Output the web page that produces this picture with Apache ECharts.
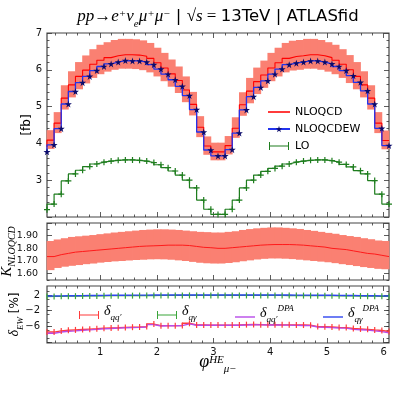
<!DOCTYPE html>
<html lang="en">
<head>
<meta charset="UTF-8">
<title>phi_mu HE - NLO QCD / EW</title>
<script src="https://cdn.jsdelivr.net/npm/echarts@6/dist/echarts.min.js"></script>
<style>html,body{margin:0;padding:0;background:#fff}</style>
</head>
<body>
<div id="main" style="width:399px;height:399px"></div>
<script type="text/javascript">
// bin points along phi_mu^HE (steps drawn "pre": value i covers phi[i-1]..phi[i])
var phi = [0.063,0.188,0.314,0.440,0.565,0.691,0.817,0.942,1.068,1.194,1.319,1.445,1.571,1.696,1.822,1.948,2.073,2.199,2.325,2.450,2.576,2.702,2.827,2.953,3.079,3.204,3.330,3.456,3.581,3.707,3.833,3.958,4.084,4.210,4.335,4.461,4.587,4.712,4.838,4.964,5.089,5.215,5.341,5.466,5.592,5.718,5.843,5.969,6.095];

// top panel [fb]
var nloqcd   = [3.90,4.09,4.55,5.23,5.59,5.82,5.99,6.15,6.26,6.33,6.38,6.41,6.41,6.40,6.37,6.31,6.19,6.05,5.89,5.71,5.45,5.06,4.44,3.93,3.77,3.77,3.94,4.41,5.05,5.42,5.68,5.86,6.05,6.19,6.31,6.36,6.38,6.41,6.41,6.38,6.33,6.26,6.15,6.00,5.82,5.59,5.23,4.55,4.08];
var nloqcdHi = [4.16,4.36,4.85,5.58,5.96,6.21,6.39,6.56,6.68,6.75,6.81,6.84,6.84,6.83,6.80,6.73,6.60,6.46,6.28,6.09,5.82,5.40,4.74,4.19,4.02,4.02,4.20,4.71,5.39,5.78,6.06,6.25,6.46,6.60,6.73,6.79,6.81,6.84,6.84,6.81,6.75,6.68,6.56,6.40,6.21,5.96,5.58,4.85,4.35];
var nloqcdLo = [3.67,3.85,4.28,4.92,5.25,5.47,5.63,5.78,5.88,5.95,6.00,6.03,6.03,6.02,5.99,5.93,5.82,5.69,5.54,5.37,5.12,4.76,4.17,3.69,3.54,3.54,3.70,4.15,4.75,5.09,5.34,5.51,5.69,5.82,5.93,5.98,6.00,6.03,6.03,6.00,5.95,5.88,5.78,5.64,5.47,5.25,4.92,4.28,3.84];
var nloqcdew = [3.77,3.96,4.40,5.07,5.41,5.65,5.82,5.98,6.09,6.16,6.21,6.25,6.24,6.24,6.21,6.14,6.02,5.88,5.73,5.55,5.30,4.92,4.31,3.82,3.66,3.66,3.83,4.28,4.91,5.27,5.52,5.70,5.88,6.02,6.14,6.18,6.21,6.24,6.24,6.21,6.16,6.09,5.98,5.84,5.66,5.43,5.07,4.41,3.94];
var lo       = [2.20,2.35,2.62,2.98,3.17,3.27,3.37,3.44,3.49,3.52,3.54,3.55,3.55,3.54,3.52,3.48,3.42,3.34,3.25,3.14,3.00,2.79,2.46,2.21,2.07,2.07,2.21,2.46,2.79,3.00,3.14,3.24,3.32,3.38,3.44,3.49,3.52,3.54,3.55,3.55,3.53,3.49,3.43,3.36,3.26,3.17,2.99,2.62,2.35];

// middle panel: K factor NLOQCD / LO
var kFac   = [1.735,1.735,1.75,1.76,1.77,1.775,1.78,1.785,1.79,1.795,1.80,1.805,1.81,1.815,1.818,1.82,1.822,1.825,1.825,1.825,1.822,1.815,1.808,1.805,1.80,1.80,1.805,1.81,1.815,1.82,1.825,1.828,1.83,1.83,1.83,1.828,1.825,1.82,1.815,1.81,1.80,1.795,1.79,1.78,1.77,1.76,1.755,1.745,1.735];
var kFacHi = [1.855,1.858,1.87,1.88,1.89,1.895,1.90,1.905,1.912,1.918,1.925,1.93,1.935,1.94,1.945,1.948,1.95,1.95,1.948,1.945,1.94,1.935,1.93,1.928,1.925,1.925,1.93,1.935,1.945,1.952,1.958,1.962,1.965,1.965,1.962,1.958,1.953,1.945,1.938,1.93,1.922,1.915,1.905,1.897,1.89,1.88,1.872,1.862,1.858];
var kFacLo = [1.625,1.628,1.645,1.655,1.662,1.668,1.675,1.68,1.687,1.692,1.697,1.70,1.704,1.708,1.71,1.713,1.714,1.713,1.71,1.705,1.70,1.693,1.686,1.682,1.68,1.68,1.684,1.69,1.698,1.705,1.712,1.717,1.72,1.72,1.718,1.715,1.71,1.705,1.70,1.695,1.69,1.683,1.675,1.668,1.66,1.652,1.645,1.638,1.635];

// bottom panel: EW corrections [%]
var dQQ    = [-7.5,-7.5,-7.2,-7.05,-6.95,-6.85,-6.75,-6.65,-6.5,-6.45,-6.4,-6.3,-6.25,-6.2,-6.1,-5.45,-5.85,-5.85,-5.85,-5.8,-5.25,-5.7,-5.7,-5.72,-5.72,-5.72,-5.72,-5.7,-5.6,-5.55,-5.6,-5.65,-5.6,-5.65,-5.65,-5.7,-5.7,-5.75,-6.1,-6.15,-6.2,-6.3,-6.35,-6.6,-6.7,-6.8,-6.95,-7.1,-7.35];
var dQG    = [1.6,1.62,1.65,1.68,1.7,1.72,1.74,1.76,1.78,1.8,1.81,1.82,1.83,1.84,1.85,1.86,1.87,1.87,1.88,1.88,1.88,1.88,1.88,1.88,1.88,1.88,1.88,1.88,1.88,1.88,1.88,1.88,1.87,1.87,1.86,1.85,1.84,1.83,1.82,1.81,1.8,1.78,1.76,1.74,1.72,1.7,1.68,1.65,1.62];
var dQQdpa = [-7.8,-7.8,-7.5,-7.3,-7.2,-7.05,-6.95,-6.8,-6.65,-6.6,-6.5,-6.4,-6.35,-6.3,-6.2,-5.6,-5.95,-5.9,-5.9,-5.85,-5.4,-5.75,-5.75,-5.77,-5.77,-5.77,-5.77,-5.75,-5.68,-5.62,-5.66,-5.7,-5.66,-5.7,-5.72,-5.78,-5.8,-5.85,-6.2,-6.25,-6.35,-6.45,-6.5,-6.8,-6.9,-7.0,-7.2,-7.4,-7.7];
var dQGdpa = [1.72,1.74,1.77,1.8,1.82,1.84,1.86,1.88,1.9,1.92,1.93,1.94,1.95,1.96,1.97,1.98,1.99,1.99,2.0,2.0,2.0,2.0,2.0,2.0,2.0,2.0,2.0,2.0,2.0,2.0,2.0,2.0,1.99,1.99,1.98,1.97,1.96,1.95,1.94,1.93,1.92,1.9,1.88,1.86,1.84,1.82,1.8,1.77,1.74];

// tick labels
var xTickLabels   = [1, 2, 3, 4, 5, 6];
var topTickLabels = [3, 4, 5, 6, 7];
var kTickLabels   = [1.6, 1.7, 1.8, 1.9];
var dTickLabels   = [-6, -2, 2];

var STAR = 'path://M50,0L61,35L98,35L68,57L79,91L50,70L21,91L32,57L2,35L39,35Z';
var PLUS = 'path://M4,0h2v4h4v2h-4v4h-2v-4h-4v-2h4z';
var CAP  = 'path://M0,0h1v10h-1z';
var CAPICON  = 'path://M0,0h1v3.5h18v-3.5h1v8h-1v-3.5h-18v3.5h-1z';
var LINEICON = 'path://M0,0h20v1.4h-20z';
var SALMON = '#fa8072';

var xMin = phi[0], xMax = phi[phi.length - 1];

function pts(ys) {
    return phi.map(function (x, i) { return [x, ys[i]]; });
}
function bandData(lo, hi) {
    return phi.map(function (x, i) { return [i ? phi[i - 1] : x, x, lo[i], hi[i]]; });
}
function steps(a, b, step, skip) {
    var out = [];
    for (var k = Math.ceil(a / step - 1e-9); k * step <= b + 1e-9; k++) {
        var v = +(k * step).toFixed(4);
        if (skip && Math.abs(v / skip - Math.round(v / skip)) < 1e-6) continue;
        out.push(v);
    }
    return out;
}

// math-ish rich text styles
function rich(base, sans, subPad) {
    var serif = 'Liberation Serif';
    var s = Math.round(base * 0.66);
    return {
        m: {fontFamily: serif, fontStyle: 'italic', fontSize: base, lineHeight: base, verticalAlign: 'bottom', padding: [0, 0, 5, 0], color: '#000'},
        n: {fontFamily: serif, fontSize: base, lineHeight: base, verticalAlign: 'bottom', padding: [0, 0, 5, 0], color: '#000'},
        t: {fontFamily: 'DejaVu Sans', fontSize: sans || base - 2, lineHeight: base, verticalAlign: 'bottom', padding: [0, 0, 5, 0], color: '#000'},
        p: {fontFamily: serif, fontStyle: 'italic', fontSize: s, lineHeight: s, verticalAlign: 'bottom', padding: [0, 0, base * 0.62, 0], color: '#000'},
        b: {fontFamily: serif, fontStyle: 'italic', fontSize: s, lineHeight: s, verticalAlign: 'bottom', padding: [0, 0, subPad || 1, 0], color: '#000'}
    };
}

// one panel side = major axis + minor axis, on both sides
function axes(dim, gi, min, max, majors, minors, labels, fmt, margin, nameOpt, fontSize) {
    var sides = dim === 'x' ? ['bottom', 'top'] : ['left', 'right'];
    var out = [];
    sides.forEach(function (side, s) {
        [majors, minors].forEach(function (vals, m) {
            var main = s === 0 && m === 0;
            var ax = {
                type: 'value', gridIndex: gi, position: side, min: min, max: max,
                axisLine: {show: false, onZero: false},
                splitLine: {show: false},
                axisTick: {show: true, inside: true, length: m ? 2.5 : 5, customValues: vals,
                    lineStyle: {color: '#333', width: 0.8}},
                axisLabel: {show: main && !!labels, customValues: labels || majors, formatter: fmt,
                    margin: margin, fontSize: fontSize || 10, fontFamily: 'DejaVu Sans', color: '#111'}
            };
            if (main && nameOpt) Object.assign(ax, {nameMoveOverlap: false}, nameOpt);
            out.push(ax);
        });
    });
    return out;
}

var minus = function (v) { return String(v).replace('-', '\u2212'); };

var xAxes = [].concat(
    axes('x', 0, xMin, xMax, xTickLabels, steps(0, 6.1, 0.2, 1), null, null, 4),
    axes('x', 1, xMin, xMax, xTickLabels, steps(0, 6.1, 0.2, 1), null, null, 4),
    axes('x', 2, xMin, xMax, xTickLabels, steps(0, 6.1, 0.2, 1), xTickLabels, null, 4, {
        name: '{f|\u03c6}{p|HE}{b|\u03bc\u2212}', nameLocation: 'middle', nameGap: 15,
        nameTextStyle: {rich: Object.assign(rich(17), {f: {fontFamily: 'Liberation Serif', fontStyle: 'italic', fontSize: 18, lineHeight: 18, verticalAlign: 'bottom', padding: [0, 0, 5, 0], color: '#000'}})}
    })
);
var yAxes = [].concat(
    axes('y', 0, 2, 7, [2, 3, 4, 5, 6, 7], steps(2, 7, 0.2, 1), topTickLabels, null, 5, {
        name: '[fb]', nameLocation: 'middle', nameGap: 14, nameRotate: 90,
        nameTextStyle: {fontSize: 12, fontFamily: 'DejaVu Sans', color: '#000'}
    }),
    axes('y', 1, 1.55, 2.0, [1.6, 1.7, 1.8, 1.9, 2.0], steps(1.55, 2.0, 0.05, 0.1), kTickLabels,
        function (v) { return v.toFixed(2); }, 9, {
        name: '{m|K}{b|NLOQCD}', nameLocation: 'middle', nameGap: 27, nameRotate: 90,
        nameTextStyle: {rich: rich(15, null, 3)}
    }, 9.5),
    axes('y', 2, -10.3, 4.3, [-10, -6, -2, 2], steps(-10.3, 4.3, 1, 4), dTickLabels, minus, 7, {
        name: '{m|\u03b4}{b|EW}{t| [%]}', nameLocation: 'middle', nameGap: 21, nameRotate: 90,
        nameTextStyle: {rich: rich(14)}
    })
);

function bandSeries(gi, lo, hi) {
    return {
        type: 'custom', xAxisIndex: gi * 4, yAxisIndex: gi * 4, z: 1, silent: true,
        data: bandData(lo, hi), encode: {x: [0, 1], y: [2, 3]},
        renderItem: function (params, api) {
            var a = api.coord([api.value(0), api.value(3)]);
            var b = api.coord([api.value(1), api.value(2)]);
            if (b[0] - a[0] < 0.5) return null;
            return {type: 'rect', shape: {x: a[0] - 0.4, y: a[1], width: b[0] - a[0] + 0.8, height: b[1] - a[1]},
                style: {fill: SALMON}};
        }
    };
}
function stepLine(name, gi, ys, color, width, symbol, size, symColor) {
    return {
        name: name, type: 'line', step: 'start', xAxisIndex: gi * 4, yAxisIndex: gi * 4, z: 3,
        data: pts(ys), symbol: symbol || 'none', symbolSize: size || 4, showSymbol: !!symbol,
        lineStyle: {color: color, width: width}, itemStyle: {color: symColor || color},
        emphasis: {disabled: true}
    };
}

var legendText = {fontSize: 11, fontFamily: 'DejaVu Sans', color: '#000', lineHeight: 12};
var dRich = {
    d: {fontFamily: 'Liberation Serif', fontStyle: 'italic', fontSize: 14, lineHeight: 14, verticalAlign: 'bottom', padding: [0, 0, 4, 0], color: '#000'},
    s: {fontFamily: 'Liberation Serif', fontStyle: 'italic', fontSize: 9, lineHeight: 9, verticalAlign: 'bottom', padding: [0, 0, 0, 0], color: '#000'},
    u: {fontFamily: 'Liberation Serif', fontStyle: 'italic', fontSize: 9, lineHeight: 9, verticalAlign: 'bottom', padding: [0, 0, 11, 0], color: '#000'}
};
var dNames = {
    dqq: '{d|\u03b4}{s|qq\u2032}',
    dqg: '{d|\u03b4}{s|q\u03b3}',
    dqqdpa: '{d|\u03b4}{s|qq\u2032}{u|DPA}',
    dqgdpa: '{d|\u03b4}{s|q\u03b3}{u|DPA}'
};
function dLegend(name, left, icon, w) {
    return {
        data: [{name: name, icon: icon}], left: left, top: 299, itemWidth: w, itemHeight: 8, selectedMode: false,
        formatter: function (n) { return dNames[n]; },
        textStyle: {rich: dRich}
    };
}

var myChart = echarts.init(document.getElementById('main'), null, {renderer: 'canvas'});
var option = {
    animation: false,
    backgroundColor: '#fff',
    grid: [
        {left: 47, right: 10, top: 33, height: 184, show: true, borderColor: '#444', borderWidth: 1.2, outerBoundsMode: 'none'},
        {left: 47, right: 10, top: 223, height: 57, show: true, borderColor: '#444', borderWidth: 1.2, outerBoundsMode: 'none'},
        {left: 47, right: 10, top: 286, height: 57, show: true, borderColor: '#444', borderWidth: 1.2, outerBoundsMode: 'none'}
    ],
    xAxis: xAxes,
    yAxis: yAxes,
    legend: [
        {
            data: [{name: 'NLOQCD', icon: LINEICON}, {name: 'NLOQCDEW'}, {name: 'LO', icon: CAPICON}],
            orient: 'vertical', left: 262, top: 101,
            itemWidth: 22, itemHeight: 8, itemGap: 5, selectedMode: false, textStyle: legendText
        },
        dLegend('dqq', 74, CAPICON, 20),
        dLegend('dqg', 152, CAPICON, 20),
        dLegend('dqqdpa', 230, LINEICON, 20),
        dLegend('dqgdpa', 318, LINEICON, 20)
    ],
    graphic: [{
        type: 'text', x: 218, y: 22,
        style: {
            text: '{m|pp}{n|\u2192}{m|e}{p|+}{m|\u03bd}{b|e}{m|\u03bc}{p|+}{m|\u03bc}{p|\u2212}{t| | }{n|\u221a}{m|s}{n| = }{t|13TeV | ATLASfid}',
            rich: rich(17, 16.5), align: 'center', verticalAlign: 'middle'
        }
    }],
    series: [
        bandSeries(0, nloqcdLo, nloqcdHi),
        stepLine('NLOQCD', 0, nloqcd, '#ff0000', 1.1),
        stepLine('NLOQCDEW', 0, nloqcdew, '#2233ee', 1.3, STAR, 7, '#0b0b6b'),
        stepLine('LO', 0, lo, '#1e7d1e', 1.2, PLUS, 6),
        bandSeries(1, kFacLo, kFacHi),
        stepLine('K', 1, kFac, '#ff1a1a', 1),
        stepLine('dqq', 2, dQQ, '#ff3b3b', 1.4, CAP, [1.2, 6]),
        stepLine('dqg', 2, dQG, '#3aa53a', 1.2, CAP, [1.2, 6]),
        stepLine('dqqdpa', 2, dQQdpa, '#b84ae8', 1.4),
        stepLine('dqgdpa', 2, dQGdpa, '#2f45f0', 1.4)
    ]
};
myChart.setOption(option);
</script>
</body>
</html>
